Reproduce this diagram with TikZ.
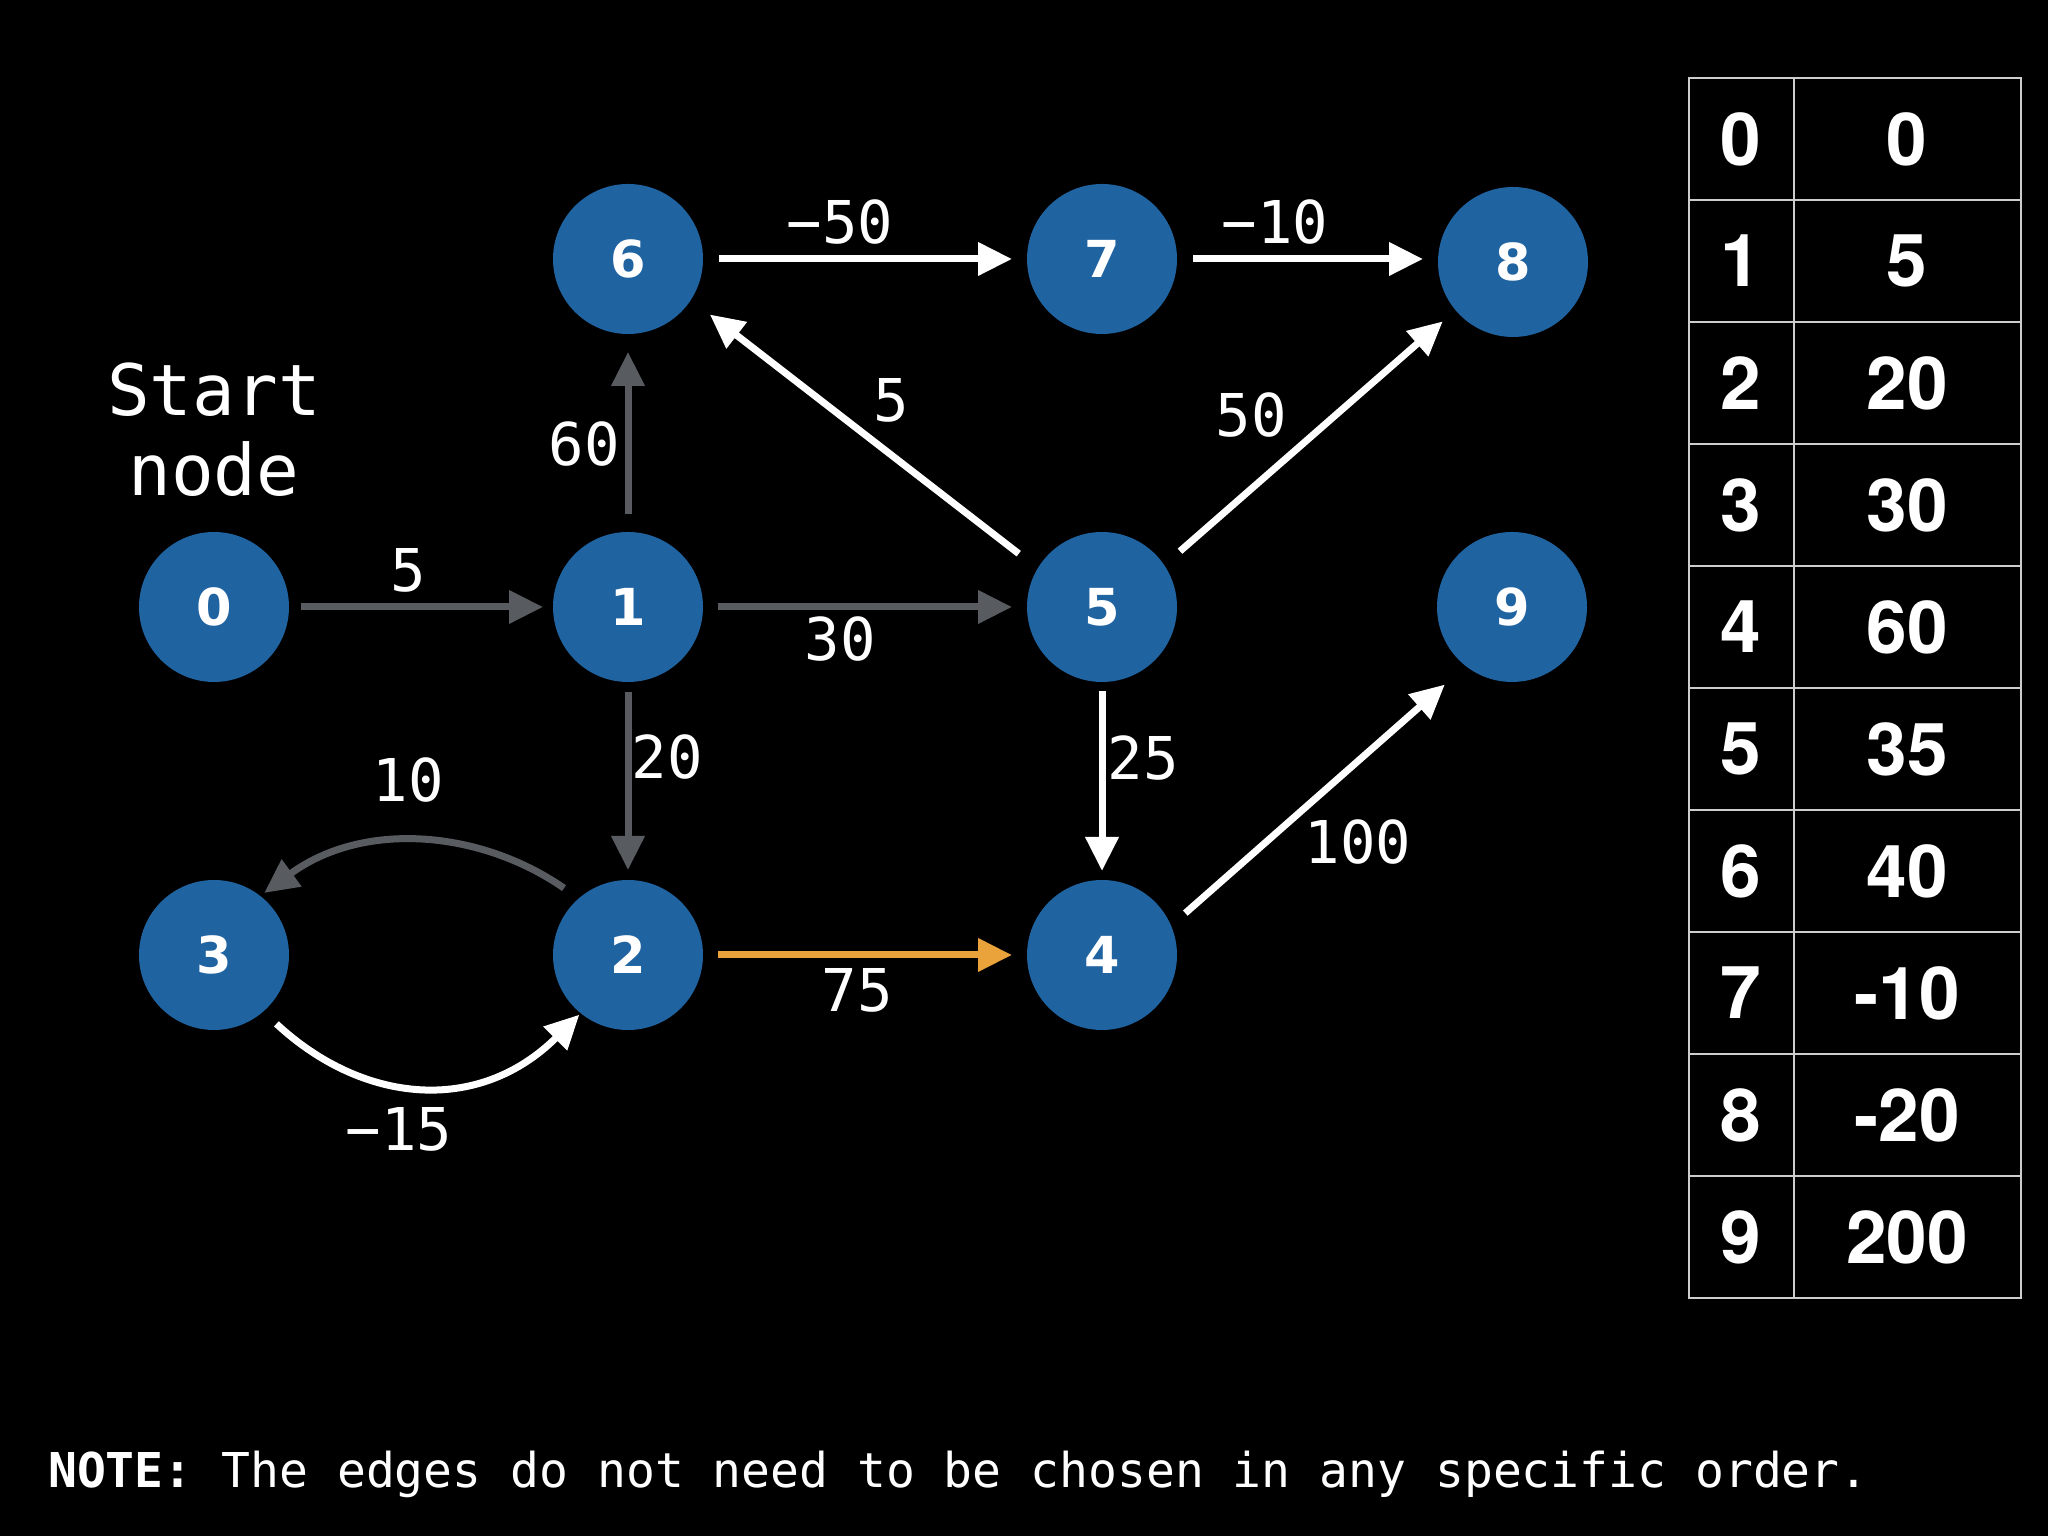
\documentclass[tikz,border=0pt]{standalone}
\usepackage{fontspec}
\setmonofont{DejaVu Sans Mono}
\newfontfamily\nodefont{DejaVu Sans}
\newfontfamily\tabfont{TeX Gyre Heros}
\usetikzlibrary{arrows.meta}
\definecolor{nodeblue}{RGB}{31,99,161}
\definecolor{edgegray}{RGB}{88,91,96}
\definecolor{edgeorange}{RGB}{233,163,58}
\definecolor{gridgray}{RGB}{205,205,205}
\begin{document}
\begin{tikzpicture}[x=1pt,y=1pt,
  vertex/.style={circle, fill=nodeblue, minimum size=150pt, inner sep=0pt, outer sep=0pt,
    text=white, font=\nodefont\bfseries\fontsize{51}{51}\selectfont},
  baseedge/.style={line width=7pt, -{Triangle[length=34pt,width=32pt]}},
  gedge/.style={baseedge, draw=edgegray},
  wedge/.style={baseedge, draw=white},
  oedge/.style={baseedge, draw=edgeorange},
  elabel/.style={text=white, inner sep=0pt, font=\ttfamily\fontsize{59}{59}\selectfont},
  tabtext/.style={text=white, inner sep=0pt, font=\tabfont\bfseries\fontsize{73}{73}\selectfont},
  gridline/.style={draw=gridgray, line width=2pt}
]
\fill[black] (0,0) rectangle (2048,1536);
\useasboundingbox (0,0) rectangle (2048,1536);

% vertices
\node[vertex] (n0) at (214,929) {0};
\node[vertex] (n1) at (628,929) {1};
\node[vertex] (n6) at (628,1277) {6};
\node[vertex] (n7) at (1102,1277) {7};
\node[vertex] (n8) at (1513,1274) {8};
\node[vertex] (n5) at (1102,929) {5};
\node[vertex] (n9) at (1512,929) {9};
\node[vertex] (n3) at (214,581) {3};
\node[vertex] (n2) at (628,581) {2};
\node[vertex] (n4) at (1102,581) {4};

% start label
\node[text=white, inner sep=0pt, align=center, font=\ttfamily\fontsize{71}{80}\selectfont] (start) at (214,1106) {Start\\node};

% edges
\draw[gedge, shorten <=12pt, shorten >=10pt] (n0) -- (n1);
\draw[gedge, shorten <=18pt, shorten >=18pt] (n1) -- (n6);
\draw[gedge, shorten <=15pt, shorten >=15pt] (n1) -- (n5);
\draw[gedge, shorten <=10pt, shorten >=10pt] (n1) -- (n2);
\draw[wedge, shorten <=16pt, shorten >=15pt] (n6) -- (n7);
\draw[wedge, shorten <=16pt, shorten >=15pt] (n7) -- (n8.west |- n7);
\draw[wedge, shorten <=9pt, shorten >=9pt] (n5) -- (n4);
\draw[oedge, shorten <=15pt, shorten >=15pt] (n2) -- (n4);
\draw[wedge, shorten <=24pt, shorten >=24pt] (n5.149.5) -- (n6.-33);
\draw[wedge, shorten <=21pt, shorten >=17pt] (n5.34) -- (n8.220.6);
\draw[wedge, shorten <=19pt, shorten >=28pt] (n4.23.3) -- (n9.232.5);
\draw[gedge, shorten <=18pt, shorten >=5pt] (n2.131) .. controls +(-98,68) and +(104,76) .. (n3.52);
\draw[wedge, shorten <=18pt, shorten >=2pt] (n3.-49) .. controls +(99,-92) and +(-103,-102) .. (n2.-129);

% edge labels
\node[elabel] (l01) at (408,966) {5};
\node[elabel] (l16) at (584,1092) {60};
\node[elabel] (l67) at (840,1314) {−50};
\node[elabel] (l78) at (1275,1314) {−10};
\node[elabel] (l56) at (891,1136) {5};
\node[elabel] (l58) at (1251,1121) {50};
\node[elabel] (l15) at (840,897) {30};
\node[elabel] (l12) at (667,779) {20};
\node[elabel] (l23) at (408,756) {10};
\node[elabel] (l32) at (399,407) {−15};
\node[elabel] (l54) at (1143,778) {25};
\node[elabel] (l49) at (1358,694) {100};
\node[elabel] (l24) at (857,546) {75};

% table
\draw[gridline] (1689,238) rectangle (2021,1458);
\draw[gridline] (1794,238) -- (1794,1458);
\foreach \k in {1,...,9} \draw[gridline] (1689,{1458-122*\k}) -- (2021,{1458-122*\k});
\foreach \v [count=\i from 0] in {0,5,20,30,60,35,40,-10,-20,200} {
  \node[tabtext] (ka\i) at (1741,{1397-122*\i}) {\i};
  \node[tabtext] (kb\i) at (1907,{1397-122*\i}) {\v};
}

% note
\node[anchor=base west, text=white, inner sep=0pt, font=\ttfamily\fontsize{48}{48}\selectfont] (note) at (48,48)
  {\textbf{NOTE:} The edges do not need to be chosen in any specific order.};
\end{tikzpicture}
\end{document}
